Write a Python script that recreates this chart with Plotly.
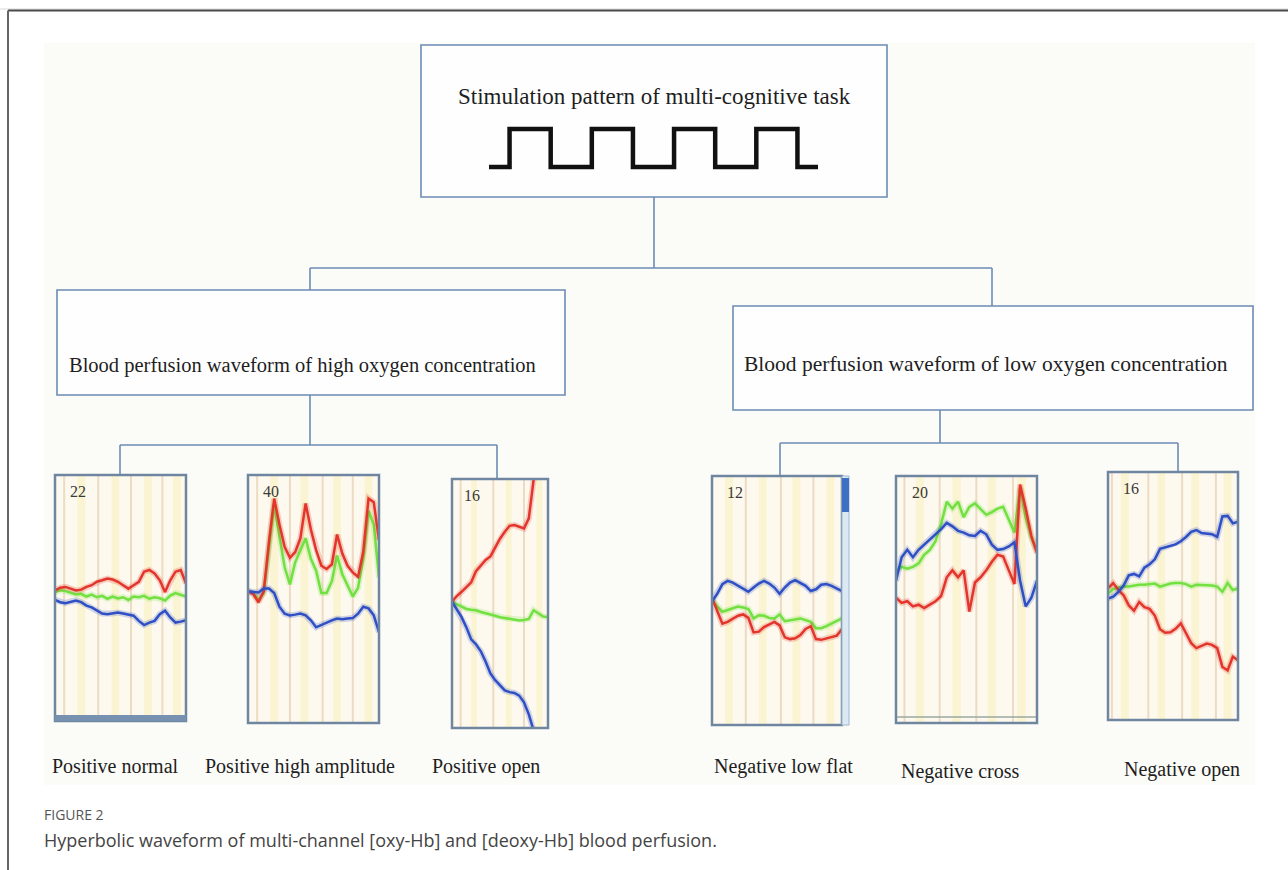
import plotly.graph_objects as go

W, H = 1288, 870

# ---------------- data ----------------
# common time grid (0-100) for waveform panels; signal level 0 (bottom) - 100 (top)
t_grid = list(range(0, 101, 4))
t_grid5 = list(range(0, 101, 5))

# Panel 1: Positive normal (channel 22)
p1_red = [53.1, 54.2, 54.5, 53.8, 53.1, 53.4, 54.5, 55.2, 56.6, 57.2, 57.9, 57.5, 56.6,
          55.2, 53.8, 55.2, 56.6, 60.7, 61.4, 60.0, 57.2, 52.4, 57.2, 60.7, 61.4, 55.9]
p1_green = [52.4, 53.1, 52.8, 52.0, 51.4, 51.7, 50.6, 51.4, 50.3, 50.9, 49.7, 50.6, 49.8,
            50.3, 49.2, 50.6, 50.3, 50.9, 49.7, 50.3, 49.9, 49.0, 51.0, 52.0, 51.4, 50.6]
p1_blue = [49.2, 48.3, 47.9, 48.6, 49.0, 48.3, 46.9, 46.2, 44.8, 43.7, 43.4, 43.7, 44.1,
           43.7, 43.2, 42.8, 40.7, 39.0, 40.0, 40.7, 43.4, 44.8, 42.1, 40.0, 40.4, 41.0]

# Panel 2: Positive high amplitude (channel 40)
p2_red = [53.1, 52.0, 48.7, 53.1, 73.0, 90.5, 80.0, 71.0, 66.6, 68.9, 74.5, 88.5, 78.0,
          69.7, 63.4, 62.1, 64.0, 76.0, 68.3, 63.4, 60.7, 58.9, 69.0, 90.5, 89.0, 73.8]
p2_green = [53.1, 52.3, 49.7, 52.4, 70.5, 88.0, 75.2, 62.8, 55.9, 64.8, 69.7, 74.5, 66.2,
            61.4, 52.4, 52.4, 57.2, 67.5, 60.0, 55.2, 51.0, 54.5, 66.5, 85.5, 80.0, 58.6]
p2_blue = [53.1, 52.8, 52.6, 54.2, 54.2, 52.4, 46.9, 44.1, 43.4, 43.7, 44.1, 43.4, 41.4,
           38.6, 39.6, 40.4, 41.4, 42.1, 41.8, 42.1, 42.3, 44.1, 46.9, 46.2, 43.4, 36.6]

# Panel 3: Positive open (channel 16) - grid step 5
p3_red = [50.7, 53.0, 54.7, 56.8, 58.5, 63.0, 65.3, 67.5, 68.9, 72.6, 76.0, 78.8, 81.2,
          81.5, 80.7, 80.1, 84.2, 99.3, 115.0, None, None]
p3_green = [50.7, 49.7, 48.6, 47.8, 47.5, 47.3, 46.6, 46.2, 45.6, 45.1, 44.5, 44.2, 44.0,
            43.7, 43.2, 43.4, 43.8, 47.3, 45.9, 44.8, 44.5]
p3_blue = [50.7, 47.3, 44.5, 40.4, 35.6, 33.6, 30.8, 26.7, 21.9, 19.2, 17.1, 15.1, 14.4,
           14.1, 13.0, 10.3, 5.5, -0.7, -7.5, None, None]

# Panel 4: Negative low flat (channel 12)
p4_red = [51.0, 45.5, 40.7, 41.4, 42.8, 43.9, 44.4, 43.0, 37.2, 37.5, 39.3, 40.3, 41.4,
          40.0, 35.2, 34.5, 34.8, 36.1, 38.6, 39.7, 34.5, 34.2, 34.8, 35.2, 35.9, 38.6]
p4_green = [50.3, 47.6, 45.5, 46.2, 46.9, 47.6, 47.2, 46.6, 42.8, 44.1, 43.9, 43.0, 42.8,
            44.4, 41.7, 42.1, 42.5, 42.8, 42.1, 41.4, 38.9, 38.9, 39.7, 40.7, 41.7, 42.8]
p4_blue = [49.7, 52.7, 56.6, 57.9, 57.2, 55.9, 54.9, 53.5, 55.2, 56.8, 57.9, 56.8, 55.2,
           52.7, 55.2, 57.2, 58.2, 57.2, 55.9, 53.8, 54.5, 56.3, 56.6, 55.9, 54.9, 53.8]

# Panel 5: Negative cross (channel 20)
p5_red = [50.7, 48.6, 49.3, 47.2, 47.9, 46.5, 47.9, 49.3, 51.4, 59.0, 61.8, 59.0, 61.8,
          45.1, 56.9, 59.0, 61.8, 65.3, 68.1, 67.4, 61.8, 56.3, 96.5, 86.8, 75.7, 68.8]
p5_green = [61.8, 63.2, 62.5, 63.2, 64.6, 68.1, 70.1, 73.6, 80.6, 89.6, 86.8, 89.6, 83.3,
            87.5, 88.9, 86.8, 84.3, 85.4, 86.8, 87.5, 82.6, 77.1, 95.1, 83.3, 75.0, 69.4]
p5_blue = [57.6, 67.1, 70.1, 67.1, 70.1, 72.2, 74.3, 76.4, 78.5, 81.0, 79.6, 77.8, 77.1,
           76.0, 75.7, 77.8, 76.4, 72.2, 70.1, 70.4, 71.5, 73.2, 57.6, 47.2, 50.7, 57.6]

# Panel 6: Negative open (channel 16)
p6_red = [53.1, 55.2, 52.4, 50.3, 46.2, 44.1, 47.6, 45.5, 44.8, 42.1, 36.6, 35.2, 35.4,
          36.8, 39.0, 35.2, 31.0, 29.0, 30.0, 30.8, 30.3, 29.0, 21.4, 20.0, 25.5, 24.1]
p6_green = [51.0, 52.8, 53.4, 53.8, 53.8, 54.2, 54.5, 54.5, 54.8, 55.0, 53.8, 54.5, 55.0,
            55.2, 55.2, 54.8, 53.8, 54.5, 54.5, 54.5, 54.2, 53.8, 51.7, 55.2, 52.4, 53.1]
p6_blue = [49.0, 49.7, 51.7, 54.2, 58.3, 58.9, 57.9, 61.4, 62.8, 64.8, 69.0, 69.7, 70.2,
           70.8, 72.1, 73.8, 75.9, 76.6, 75.4, 75.2, 74.9, 73.8, 82.1, 82.3, 79.3, 80.0]

panel_labels = ["Positive normal", "Positive high amplitude", "Positive open",
                "Negative low flat", "Negative cross", "Negative open"]
channel_numbers = ["22", "40", "16", "12", "20", "16"]

# task-block stripe positions in each panel (time units)
stripe_lines = [[7, 33, 58, 82], [7, 32, 57, 80], [9, 43, 75],
                [26, 53, 78], [6, 31, 57, 83], [3, 31, 57, 83]]
stripe_bands = [[20, 46, 71, 93], [20, 43, 68, 92], [23, 59, 91],
                [13, 39, 65, 91], [17, 43, 68, 89], [13, 41, 67, 92]]

# stimulation pattern (block design): time units, on/off level
stim_t = [0, 1, 3, 5, 7, 9, 11, 13, 15, 16]
stim_level = [0, 1, 0, 1, 0, 1, 0, 1, 0, 0]

top_title = "Stimulation pattern of multi-cognitive task"
high_title = "Blood perfusion waveform of high oxygen concentration"
low_title = "Blood perfusion waveform of low oxygen concentration"
caption_head = "FIGURE 2"
caption_text = "Hyperbolic waveform of multi-channel [oxy-Hb] and [deoxy-Hb] blood perfusion."

# ---------------- layout geometry (pixels) ----------------
panel_boxes = [(55, 475, 186, 721), (248, 475, 379, 723), (452, 479, 548, 728),
               (712, 476, 842, 725), (896, 476, 1037, 723), (1108, 472, 1238, 720)]
label_pos = [(115, 766), (300, 766), (486, 766), (783, 766), (961, 771), (1182, 769)]

RED, GREEN, BLUE = "#e3352b", "#72e040", "#2f4fc4"
FRAME = "#6c8cb4"
SERIF = "Liberation Serif"
SANS = "Open Sans"

all_series = [
    (t_grid, p1_red, p1_green, p1_blue),
    (t_grid, p2_red, p2_green, p2_blue),
    (t_grid5, p3_red, p3_green, p3_blue),
    (t_grid, p4_red, p4_green, p4_blue),
    (t_grid, p5_red, p5_green, p5_blue),
    (t_grid, p6_red, p6_green, p6_blue),
]

fig = go.Figure()
shapes = []
annotations = []
layout_axes = {}

def px_x(v):
    return v / W

def px_y(v):
    return 1 - v / H

def base_line(x0, y0, x1, y1, color=FRAME, width=1.6, layer="below"):
    shapes.append(dict(type="line", xref="paper", yref="paper", x0=px_x(x0), y0=px_y(y0),
                       x1=px_x(x1), y1=px_y(y1), line=dict(color=color, width=width),
                       layer=layer))

def base_rect(x0, y0, x1, y1, line_color=FRAME, fill="rgba(0,0,0,0)", width=1.6,
              layer="below"):
    shapes.append(dict(type="rect", xref="paper", yref="paper", x0=px_x(x0), y0=px_y(y1),
                       x1=px_x(x1), y1=px_y(y0), line=dict(color=line_color, width=width),
                       fillcolor=fill, layer=layer))

def base_text(x, y, text, size, family=SERIF, color="#1e1e1e", xanchor="center"):
    annotations.append(dict(xref="paper", yref="paper", x=px_x(x), y=px_y(y), text=text,
                            showarrow=False, xanchor=xanchor, yanchor="middle",
                            font=dict(family=family, size=size, color=color)))

# page frame lines
base_line(0, 9, W, 9, color="#d8d8d8", width=1)
base_line(8, 10.5, W, 10.5, color="#4a4a4a", width=2)
base_line(8, 10.5, 8, H, color="#666666", width=2)
# image region background
base_rect(44, 43, 1255, 785, line_color="rgba(0,0,0,0)", fill="#fbfbf8", width=0)

# flowchart boxes
base_rect(421, 45, 887, 197, fill="#fefefe")
base_rect(57, 290, 565, 395, fill="#fefefe")
base_rect(733, 306, 1253, 410, fill="#fefefe")
# connectors
base_line(654, 197, 654, 268)
base_line(310, 268, 992, 268)
base_line(310, 268, 310, 290)
base_line(992, 268, 992, 306)
base_line(310, 395, 310, 445)
base_line(120, 445, 497, 445)
base_line(120, 445, 120, 475)
base_line(497, 445, 497, 479)
base_line(940, 410, 940, 443)
base_line(780, 443, 1178, 443)
base_line(780, 443, 780, 476)
base_line(1178, 443, 1178, 472)

base_text(654, 97, top_title, 23)
base_text(302, 365, high_title, 20.5)
base_text(986, 364, low_title, 21.5)
for (lx, ly), lab in zip(label_pos, panel_labels):
    base_text(lx, ly, lab, 20)
base_text(42, 814, caption_head, 14, family=SANS, color="#555555", xanchor="left")
base_text(42, 840, caption_text, 18, family=SANS, color="#444444", xanchor="left")

# stimulation square wave on its own small axis
sx0, sx1, sy_top, sy_bot = 489, 818, 129, 167
ux = (sx1 - sx0) / 16.0
uy = (sy_bot - sy_top) / 1.0
layout_axes["xaxis"] = dict(domain=[px_x(sx0 - 0.3 * ux), px_x(sx1 + 0.3 * ux)],
                            range=[-0.3, 16.3], visible=False, anchor="y", fixedrange=True)
layout_axes["yaxis"] = dict(domain=[px_y(sy_bot + 0.15 * uy), px_y(sy_top - 0.15 * uy)],
                            range=[-0.15, 1.15], visible=False, anchor="x", fixedrange=True)
fig.add_trace(go.Scatter(x=stim_t, y=stim_level, mode="lines", line_shape="hv",
                         line=dict(color="#111111", width=4.5), hoverinfo="skip",
                         xaxis="x", yaxis="y"))

# waveform panels
for i, (box, series) in enumerate(zip(panel_boxes, all_series)):
    k = i + 2
    x0, y0, x1, y1 = box
    layout_axes[f"xaxis{k}"] = dict(domain=[px_x(x0), px_x(x1)], range=[0, 100],
                                   visible=False, anchor=f"y{k}", fixedrange=True)
    layout_axes[f"yaxis{k}"] = dict(domain=[px_y(y1), px_y(y0)], range=[0, 100],
                                   visible=False, anchor=f"x{k}", fixedrange=True)
    xr, yr = f"x{k}", f"y{k}"
    base_rect(x0, y0, x1, y1, line_color="rgba(0,0,0,0)", fill="#fdf9ee", width=0)
    for b in stripe_bands[i]:
        shapes.append(dict(type="rect", xref=xr, yref=f"{yr} domain", x0=b - 3, x1=b + 3,
                           y0=0, y1=1, fillcolor="rgba(250,232,150,0.3)",
                           line=dict(width=0), layer="below"))
    for s in stripe_lines[i]:
        shapes.append(dict(type="line", xref=xr, yref=f"{yr} domain", x0=s, x1=s,
                           y0=0, y1=1, line=dict(color="rgba(210,170,125,0.38)", width=2),
                           layer="below"))
    t, r, g, b = series
    for vals, col in ((g, GREEN), (r, RED), (b, BLUE)):
        fig.add_trace(go.Scatter(x=t, y=vals, mode="lines", xaxis=xr, yaxis=yr,
                                 line=dict(color=col, width=6), opacity=0.22,
                                 hoverinfo="skip", connectgaps=False))
        fig.add_trace(go.Scatter(x=t, y=vals, mode="lines", xaxis=xr, yaxis=yr,
                                 line=dict(color=col, width=2.5), hoverinfo="skip",
                                 connectgaps=False))
    shapes.append(dict(type="rect", xref=f"{xr} domain", yref=f"{yr} domain", x0=0, x1=1,
                       y0=0, y1=1, line=dict(color="#6f86a0", width=2.5), layer="above"))
    annotations.append(dict(xref=f"{xr} domain", yref=f"{yr} domain", x=0.1, y=0.975,
                            xanchor="left", yanchor="top", text=channel_numbers[i],
                            showarrow=False,
                            font=dict(family=SERIF, size=16, color="#3a3a3a")))

# extra panel decorations: thick bottom edge of panel 1, scrollbar of panel 4,
# double bottom line of panel 5
base_rect(55, 715, 186, 721, line_color="rgba(0,0,0,0)", fill="#7792b0", width=0,
          layer="above")
base_rect(842, 476, 849, 725, line_color="#9fb6cc", fill="#dbe9f5", width=1, layer="above")
base_rect(842, 478, 849, 512, line_color="rgba(0,0,0,0)", fill="#3d6fc4", width=0,
          layer="above")
base_line(897, 717, 1036, 717, color="#9aa8a0", width=1.5, layer="above")

fig.update_layout(
    width=W, height=H, margin=dict(l=0, r=0, t=0, b=0),
    paper_bgcolor="white", plot_bgcolor="rgba(0,0,0,0)", showlegend=False,
    shapes=shapes, annotations=annotations, **layout_axes,
)

fig.write_html(
    "out.html",
    config={"displayModeBar": False},
    post_script="document.body.style.margin='0';"
                "document.documentElement.style.overflow='hidden';",
)
